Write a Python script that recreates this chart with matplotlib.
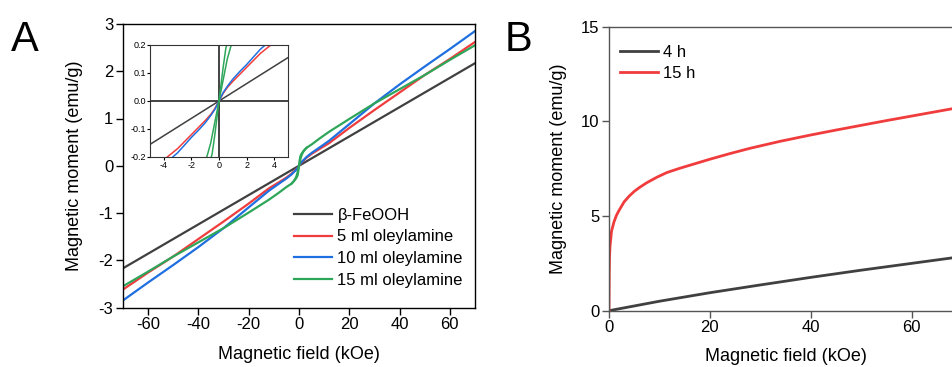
import matplotlib
matplotlib.use("Agg")
import matplotlib.pyplot as plt

plt.rcParams['font.family'] = ['Liberation Sans', 'DejaVu Sans']
plt.rcParams['axes.unicode_minus'] = False

# ---------------- Panel A data ----------------
field_A = [-70, -60, -50, -40, -30, -20, -12, -8, -5, -3, -2, -1.5, -1, -0.6, -0.3, 0,
           0.3, 0.6, 1, 1.5, 2, 3, 5, 8, 12, 20, 30, 40, 50, 60, 70]
m_feooh = [-2.17, -1.86, -1.55, -1.24, -0.93, -0.62, -0.372, -0.248, -0.155, -0.093, -0.062, -0.0465, -0.031, -0.0186, -0.0093, 0,
           0.0093, 0.0186, 0.031, 0.0465, 0.062, 0.093, 0.155, 0.248, 0.372, 0.62, 0.93, 1.24, 1.55, 1.86, 2.17]
m_5ml = [-2.62, -2.26, -1.92, -1.55, -1.18, -0.80, -0.48, -0.35, -0.25, -0.17, -0.12, -0.095, -0.07, -0.048, -0.027, 0,
         0.027, 0.048, 0.07, 0.095, 0.12, 0.17, 0.25, 0.35, 0.48, 0.80, 1.18, 1.55, 1.92, 2.26, 2.62]
m_10ml = [-2.85, -2.47, -2.10, -1.72, -1.32, -0.88, -0.53, -0.38, -0.27, -0.185, -0.13, -0.105, -0.078, -0.052, -0.03, 0,
          0.03, 0.052, 0.078, 0.105, 0.13, 0.185, 0.27, 0.38, 0.53, 0.88, 1.32, 1.72, 2.10, 2.47, 2.85]
m_15ml = [-2.55, -2.24, -1.92, -1.62, -1.32, -0.99, -0.72, -0.57, -0.45, -0.38, -0.32, -0.28, -0.22, -0.15, -0.075, 0,
          0.075, 0.15, 0.22, 0.28, 0.32, 0.38, 0.45, 0.57, 0.72, 0.99, 1.32, 1.62, 1.92, 2.24, 2.55]
# second (loop) branch of the 15 ml sample near zero field
field_15b = [-3, -2, -1.5, -1, -0.7, -0.5, -0.3, 0, 0.3, 0.5, 0.7, 1, 1.5, 2, 3]
m_15ml_b = [-0.38, -0.325, -0.29, -0.25, -0.22, -0.19, -0.12, 0, 0.12, 0.19, 0.22, 0.25, 0.29, 0.325, 0.38]

labels_A = ['β-FeOOH', '5 ml oleylamine', '10 ml oleylamine', '15 ml oleylamine']
colors_A = ['#404040', '#f03c3c', '#1f6fe0', '#2ea65a']

# ---------------- Panel B data ----------------
field_B4 = [0, 5, 10, 20, 30, 40, 50, 60, 70]
m_4h = [0, 0.25, 0.5, 0.95, 1.36, 1.76, 2.14, 2.5, 2.86]
field_B15 = [0, 0.05, 0.1, 0.2, 0.5, 1.0, 1.5, 2, 3, 4, 5, 6, 7.5, 9.5, 11.5, 14, 17, 20,
             24, 28, 34, 40, 45, 50, 55, 60, 65, 70]
m_15h = [0, 2.0, 2.8, 3.4, 4.2, 4.7, 5.05, 5.3, 5.75, 6.05, 6.3, 6.5, 6.76, 7.05, 7.3, 7.52, 7.76, 8.0,
         8.3, 8.58, 8.95, 9.28, 9.54, 9.79, 10.04, 10.28, 10.52, 10.76]
labels_B = ['4 h', '15 h']
colors_B = ['#404040', '#f03c3c']

W, H = 952, 367
fig = plt.figure(figsize=(W / 100, H / 100), dpi=100)

def frac(l, t, r, b):
    return [l / W, (H - b) / H, (r - l) / W, (b - t) / H]

# ---------------- Panel A ----------------
axA = fig.add_axes(frac(123, 24, 475, 307.5))
series_A = [m_feooh, m_5ml, m_10ml, m_15ml]
for m, lab, c in zip(series_A, labels_A, colors_A):
    axA.plot(field_A, m, color=c, lw=1.6, label=lab)
axA.plot(field_15b, m_15ml_b, color=colors_A[3], lw=1.6)
axA.set_xlim(-70, 70)
axA.set_ylim(-3, 3)
axA.set_xticks([-60, -40, -20, 0, 20, 40, 60])
axA.set_yticks([-3, -2, -1, 0, 1, 2, 3])
axA.tick_params(direction='out', length=5, width=1, labelsize=12, top=False, right=False, pad=2)
for s in axA.spines.values():
    s.set_linewidth(1.0)
axA.set_xlabel('Magnetic field (kOe)', fontsize=13, labelpad=10)
axA.set_ylabel('Magnetic moment (emu/g)', fontsize=13, labelpad=11)
axA.legend(loc='upper left', bbox_to_anchor=(0.486, 0.352), frameon=False, fontsize=12,
           handlelength=2.3, handletextpad=0.3, labelspacing=0.4, borderpad=0, borderaxespad=0)

# inset
axI = fig.add_axes(frac(150, 45, 288, 157))
for m, c in zip(series_A, colors_A):
    axI.plot(field_A, m, color=c, lw=1.1)
axI.plot(field_15b, m_15ml_b, color=colors_A[3], lw=1.1)
axI.axhline(0, color='#222222', lw=1.2, zorder=0)
axI.axvline(0, color='#222222', lw=1.2, zorder=0)
axI.set_xlim(-5, 5)
axI.set_ylim(-0.2, 0.2)
axI.set_xticks([-4, -2, 0, 2, 4])
axI.set_yticks([-0.2, -0.1, 0.0, 0.1, 0.2])
axI.set_yticklabels(['-0.2', '-0.1', '0.0', '0.1', '0.2'])
axI.tick_params(direction='out', length=2, width=0.8, labelsize=6.5, pad=1)
for s in axI.spines.values():
    s.set_linewidth(0.8)
    s.set_color('#333333')

# ---------------- Panel B ----------------
axB = fig.add_axes(frac(609, 26.7, 962, 310.7))
axB.plot(field_B4, m_4h, color=colors_B[0], lw=2.0, label=labels_B[0])
axB.plot(field_B15, m_15h, color=colors_B[1], lw=2.0, label=labels_B[1])
axB.set_xlim(0, 70)
axB.set_ylim(0, 15)
axB.set_xticks([0, 20, 40, 60])
axB.set_yticks([0, 5, 10, 15])
axB.tick_params(direction='out', length=5, width=1, labelsize=12, top=False, right=False,
                pad=2, color='#555555')
for s in axB.spines.values():
    s.set_linewidth(1.0)
    s.set_color('#555555')
axB.spines['right'].set_visible(False)
axB.set_xlabel('Magnetic field (kOe)', fontsize=13, labelpad=9)
axB.set_ylabel('Magnetic moment (emu/g)', fontsize=13, labelpad=10)
axB.legend(loc='upper left', bbox_to_anchor=(0.031, 0.935), frameon=False, fontsize=12,
           handlelength=2.3, handletextpad=0.3, labelspacing=0.35, borderpad=0, borderaxespad=0)

fig.text(25 / W, 1 - 40 / H, 'A', fontsize=30, ha='center', va='center')
fig.text(518 / W, 1 - 40 / H, 'B', fontsize=30, ha='center', va='center')

fig.savefig('out.png', dpi=100)
